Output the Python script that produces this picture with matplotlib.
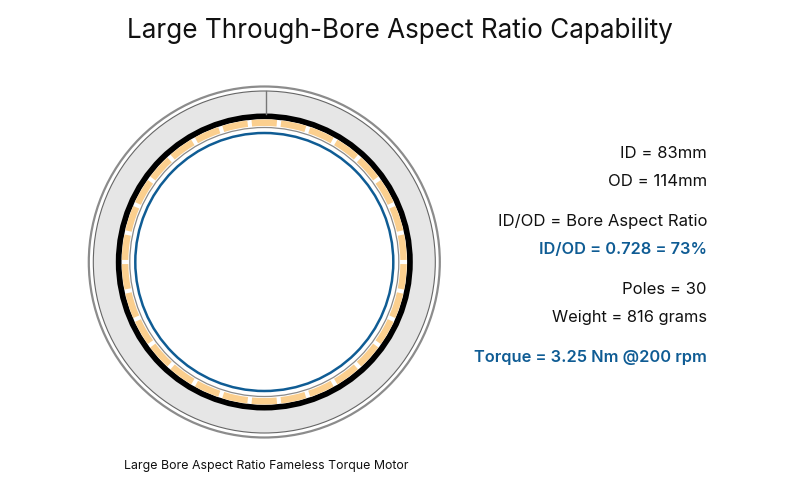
import matplotlib
matplotlib.use("Agg")
import matplotlib.pyplot as plt
from matplotlib.patches import Circle, Wedge

plt.rcParams["font.family"] = ["Inter", "DejaVu Sans"]

TITLE = "Large Through-Bore Aspect Ratio Capability"
CAPTION = "Large Bore Aspect Ratio Fameless Torque Motor"

spec_labels = ["ID = 83mm", "OD = 114mm", "ID/OD = Bore Aspect Ratio", "ID/OD = 0.728 = 73%",
               "Poles = 30", "Weight = 816 grams", "Torque = 3.25 Nm @200 rpm"]
spec_y = [158, 186, 226, 254, 294, 322, 362]
spec_colors = ["#111111", "#111111", "#111111", "#0f5c94", "#111111", "#111111", "#0f5c94"]
spec_weights = ["normal", "normal", "normal", "semibold", "normal", "normal", "semibold"]
spec_sizes = [12, 12, 12, 11.75, 12, 11.8, 11.8]

poles = 30
magnet_span = 10.3

# ring radii in pixels
r_housing_out = 175.5
r_housing_line = 171
r_back_iron_out = 148.5
r_back_iron_in = 142.8
r_magnet_out = 142.5
r_magnet_in = 136
r_stator = 134.5
r_bore = 129

cx, cy = 264.3, 262
seam_x = 265.5


def main():
    fig = plt.figure(figsize=(8, 4.93), dpi=100)
    ax = fig.add_axes([0, 0, 1, 1])
    ax.set_xlim(0, 800)
    ax.set_ylim(493, 0)
    ax.axis("off")

    ax.add_patch(Circle((cx, cy), r_housing_out, fc="white", ec="#8c8c8c", lw=1.6))
    ax.add_patch(Circle((cx, cy), r_housing_line, fc="#e6e6e6", ec="#666666", lw=0.8))
    ax.plot([seam_x, seam_x], [cy - r_housing_line, cy - r_back_iron_out], color="#777777", lw=1.0)
    ax.add_patch(Circle((cx, cy), r_back_iron_out, fc="black", ec="none"))
    ax.add_patch(Circle((cx, cy), r_back_iron_in, fc="white", ec="none"))

    # magnets, one centred on top. y axis is flipped so -90 deg is up
    for i in range(poles):
        mid = -90 + i * 360 / poles
        ax.add_patch(Wedge((cx, cy), r_magnet_out, mid - magnet_span / 2, mid + magnet_span / 2,
                           width=r_magnet_out - r_magnet_in, fc="#fbcf8e", ec="none"))

    ax.add_patch(Circle((cx, cy), r_stator, fc="none", ec="#8a8a8a", lw=0.9))
    ax.add_patch(Circle((cx, cy), r_bore, fc="none", ec="#0f5c94", lw=1.8))

    ax.text(400, 37.5, TITLE, ha="center", va="baseline", fontsize=18.8, color="#111111")
    ax.text(266, 469, CAPTION, ha="center", va="baseline", fontsize=8.9, color="#111111")
    for label, y, color, weight, size in zip(spec_labels, spec_y, spec_colors, spec_weights, spec_sizes):
        ax.text(707, y, label, ha="right", va="baseline", fontsize=size, color=color, fontweight=weight)

    fig.savefig("out.png", dpi=100)
    plt.close(fig)


if __name__ == "__main__":
    main()
